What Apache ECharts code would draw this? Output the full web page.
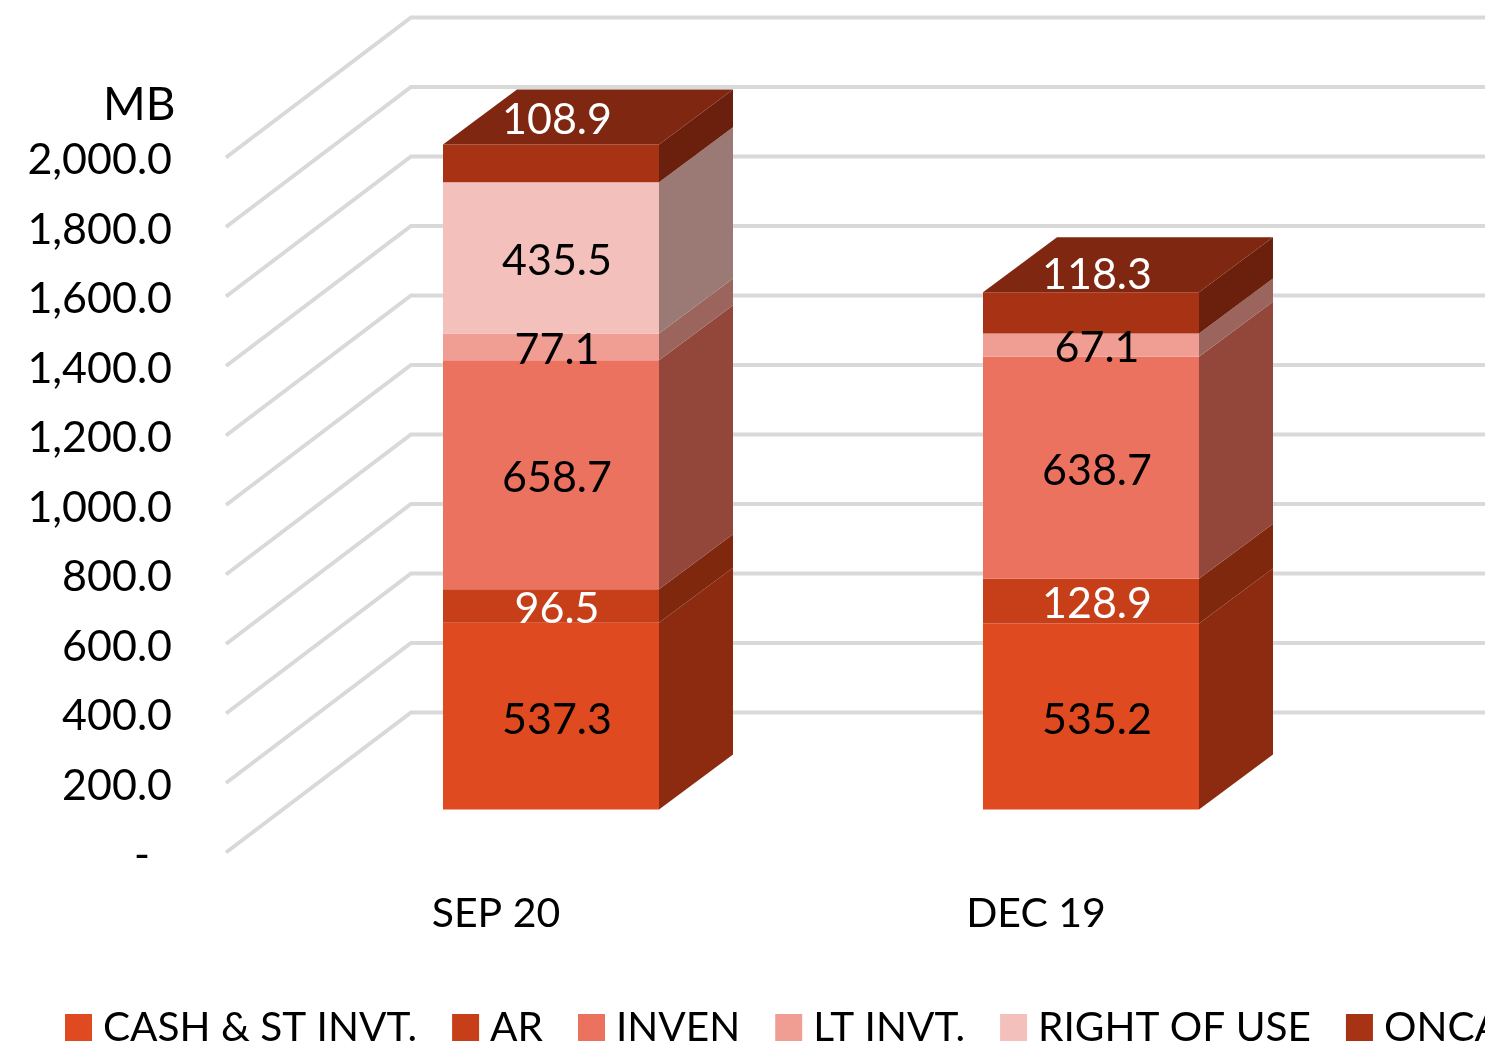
<!DOCTYPE html>
<html>
<head>
<meta charset="utf-8">
<title>Assets</title>
<style>
  html, body { margin: 0; padding: 0; background: #fff; overflow: hidden; }
  #chart { width: 1485px; height: 1045px; }
</style>
<script src="https://cdn.jsdelivr.net/npm/echarts@6/dist/echarts.min.js"></script>
</head>
<body>
<div id="chart"></div>
<script>
var categories = ['SEP 20', 'DEC 19'];
var ticks = [0, 200, 400, 600, 800, 1000, 1200, 1400, 1600, 1800, 2000];

var cash = [537.3, 535.2];
var ar = [96.5, 128.9];
var inven = [658.7, 638.7];
var ltInvt = [77.1, 67.1];
var rightOfUse = [435.5, 0];
var onca = [108.9, 118.3];

var FONT = 'Lato';

// depth of the floor and where the boxes stand on it
var WALL_DX = 185, WALL_DY = -140;
var FRONT_DX = 55, FRONT_DY = -43;
var BOX_DX = 74, BOX_DY = -55;

// the top labels were dragged up onto the lid of each box
var ONCA_LABEL_UP = [47, 41];

var stack = [
  { name: 'CASH & ST INVT.', values: cash, color: '#DF4A20', side: '#8C2B10', text: '#000' },
  { name: 'AR', values: ar, color: '#C63F19', side: '#80280E', text: '#fff' },
  { name: 'INVEN', values: inven, color: '#EC7260', side: '#93473A', text: '#000' },
  { name: 'LT INVT.', values: ltInvt, color: '#F09E94', side: '#9B655D', text: '#000' },
  { name: 'RIGHT OF USE', values: rightOfUse, color: '#F4C0BC', side: '#9B7A76', text: '#000' },
  { name: 'ONCA', values: onca, color: '#A83214', side: '#6A200D', top: '#7F2710', text: '#fff', labelUp: ONCA_LABEL_UP }
];

function polygon(points, fill) {
  return { type: 'polygon', shape: { points: points }, style: { fill: fill } };
}

function renderGrid(params, api) {
  var y = api.coord([0, api.value(0)])[1];
  var x = params.coordSys.x;
  return {
    type: 'polyline',
    shape: { points: [[x, y], [x + WALL_DX, y + WALL_DY], [x + params.coordSys.width + WALL_DX, y + WALL_DY]] },
    style: { stroke: '#D9D9D9', lineWidth: 4, fill: null }
  };
}

function makeRenderer(s) {
  return function (params, api) {
    var idx = api.value(0), base = api.value(1), val = api.value(2);
    if (!val) return null;
    var bottom = api.coord([idx, base]);
    var top = api.coord([idx, base + val]);
    var w = api.size([1, 0])[0] / 2.5;
    var x0 = bottom[0] + FRONT_DX - w / 2, x1 = x0 + w;
    var y0 = bottom[1] + FRONT_DY, y1 = top[1] + FRONT_DY;
    var kids = [
      polygon([[x1, y0], [x1 + BOX_DX, y0 + BOX_DY], [x1 + BOX_DX, y1 + BOX_DY], [x1, y1]], s.side),
      polygon([[x0, y0], [x1, y0], [x1, y1], [x0, y1]], s.color)
    ];
    if (s.top) {
      kids.push(polygon([[x0, y1], [x1, y1], [x1 + BOX_DX, y1 + BOX_DY], [x0 + BOX_DX, y1 + BOX_DY]], s.top));
    }
    kids.push({
      type: 'text',
      z2: 10,
      style: {
        x: (x0 + x1) / 2 + 6,
        y: (y0 + y1) / 2 + 3.5 - (s.labelUp ? s.labelUp[idx] : 0),
        text: val.toFixed(1),
        fill: s.text,
        font: '43px ' + FONT,
        align: 'center',
        verticalAlign: 'middle'
      }
    });
    return { type: 'group', children: kids };
  };
}

var running = categories.map(function () { return 0; });
var barSeries = stack.map(function (s) {
  var rows = s.values.map(function (v, i) {
    var row = [i, running[i], v];
    running[i] += v;
    return row;
  });
  return {
    name: s.name,
    type: 'custom',
    coordinateSystem: 'cartesian2d',
    renderItem: makeRenderer(s),
    itemStyle: { color: s.color },
    encode: { x: 0, y: [1, 2] },
    clip: false,
    silent: true,
    z: 5,
    data: rows
  };
});

var gridSeries = {
  type: 'custom',
  name: 'grid',
  coordinateSystem: 'cartesian2d',
  renderItem: renderGrid,
  encode: { y: 0 },
  clip: false,
  silent: true,
  z: 1,
  data: ticks.map(function (t) { return [t]; })
};

var chart = echarts.init(document.getElementById('chart'), null, { renderer: 'canvas' });
chart.setOption({
  animation: false,
  backgroundColor: '#fff',
  textStyle: { fontFamily: FONT },
  title: {
    text: 'MB',
    left: 98,
    top: 77,
    textStyle: { fontFamily: FONT, fontSize: 46, fontWeight: 'normal', color: '#000' }
  },
  legend: {
    data: stack.map(function (s) { return s.name; }),
    icon: 'rect',
    left: 65,
    top: 1007,
    padding: 0,
    width: 2400,
    itemWidth: 27,
    itemHeight: 27,
    itemGap: 35,
    selectedMode: false,
    textStyle: { fontFamily: FONT, fontSize: 40.6, color: '#000', padding: [0, 0, 0, 6] }
  },
  grid: { left: 226, top: 157.5, width: 1080, height: 695 },
  xAxis: {
    type: 'category',
    data: categories,
    axisLine: { show: false },
    axisTick: { show: false },
    splitLine: { show: false },
    axisLabel: { color: '#000', fontFamily: FONT, fontSize: 41, margin: 41 }
  },
  yAxis: {
    type: 'value',
    min: 0,
    max: 2000,
    interval: 200,
    axisLine: { show: false },
    axisTick: { show: false },
    splitLine: { show: false },
    axisLabel: {
      color: '#000',
      fontFamily: FONT,
      fontSize: 43,
      margin: 54,
      // the labels sit a little below their gridline ends
      verticalAlign: 'top',
      lineHeight: 6,
      formatter: function (v) {
        if (v === 0) return '-  ';
        return v.toLocaleString('en-US', { minimumFractionDigits: 1, maximumFractionDigits: 1 });
      }
    }
  },
  series: [gridSeries].concat(barSeries)
});
</script>
</body>
</html>
